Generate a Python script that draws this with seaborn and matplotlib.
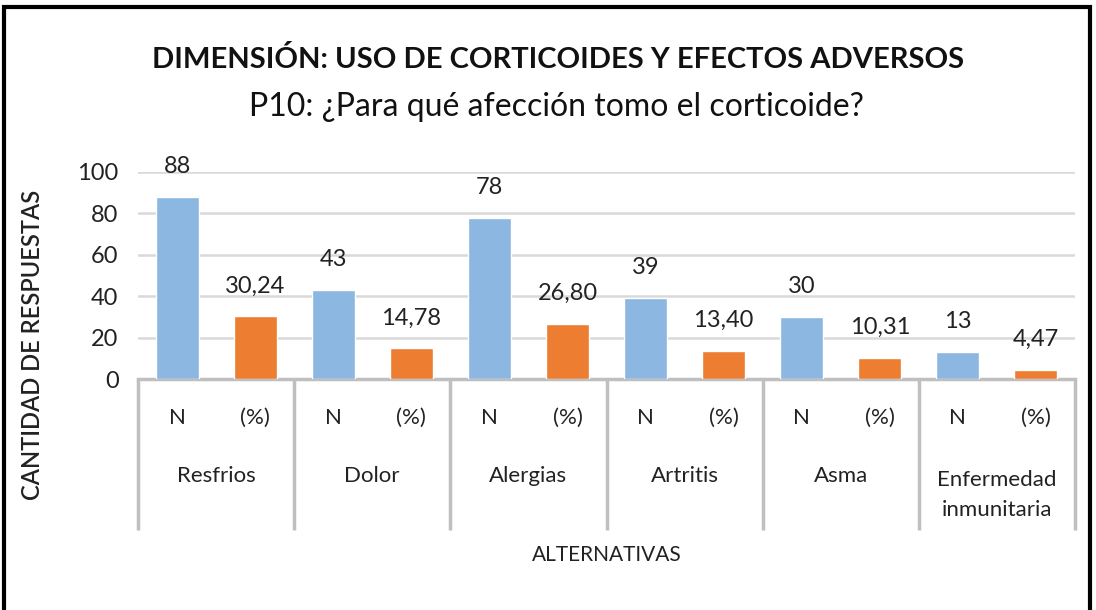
import matplotlib
matplotlib.use("Agg")
import matplotlib.pyplot as plt
import matplotlib.patches as mpatches
import seaborn as sns
import pandas as pd

# data
categorias = ["Resfrios", "Dolor", "Alergias", "Artritis", "Asma", "Enfermedad\ninmunitaria"]
n_valores = [88, 43, 78, 39, 30, 13]
pct_valores = [30.24, 14.78, 26.80, 13.40, 10.31, 4.47]
sub_labels = ["N", "(%)"]

titulo = "DIMENSIÓN: USO DE CORTICOIDES Y EFECTOS ADVERSOS"
subtitulo = "P10: ¿Para qué afección tomo el corticoide?"

# build long table: one slot per (categoria, N/%)
rows = []
for cat, n, p in zip(categorias, n_valores, pct_valores):
    rows.append({"slot": cat + " N", "serie": "N", "valor": n})
    rows.append({"slot": cat + " (%)", "serie": "(%)", "valor": p})
df = pd.DataFrame(rows)

sns.set_style("white")
plt.rcParams["font.family"] = ["Lato", "DejaVu Sans"]

fig = plt.figure(figsize=(10.96, 6.10), dpi=100)
ax = fig.add_axes([138 / 1096, 1 - 379 / 610, (1075 - 138) / 1096, (379 - 172) / 610])

sns.barplot(data=df, x="slot", y="valor", hue="serie", dodge=False, saturation=1,
            palette={"N": "#8CB7E1", "(%)": "#ED7D31"}, width=0.55,
            legend=False, ax=ax, zorder=3)

ax.set_xlim(-0.5, len(df) - 0.5)
ax.set_ylim(0, 100)
ax.set_yticks([0, 20, 40, 60, 80, 100])
ax.tick_params(axis="y", labelsize=17, length=0, pad=14, labelcolor="#222222")
ax.set_xticks([])
ax.set_xlabel("")
ax.set_ylabel("")
ax.yaxis.grid(True, color="#D9D9D9", linewidth=1.8, zorder=0)
for s in ["top", "right", "left"]:
    ax.spines[s].set_visible(False)
ax.spines["bottom"].set_color("#BFBFBF")
ax.spines["bottom"].set_linewidth(2.5)

# data labels
for i, row in df.iterrows():
    txt = f"{row['valor']:.0f}" if row["serie"] == "N" else f"{row['valor']:.2f}".replace(".", ",")
    ax.annotate(txt, (i, row["valor"]), xytext=(0, 20), textcoords="offset pixels",
                ha="center", va="bottom", fontsize=17, color="#222222")

# multi-level category axis
tr = ax.get_xaxis_transform()
for k, cat in enumerate(categorias):
    for j, sl in enumerate(sub_labels):
        ax.text(2 * k + j, -0.188, sl, transform=tr, ha="center", va="center",
                fontsize=16, color="#222222")
    if "\n" in cat:
        ax.text(2 * k + 0.5, -0.56, cat, transform=tr, ha="center", va="center",
                fontsize=16, color="#222222", linespacing=1.65)
    else:
        ax.text(2 * k + 0.5, -0.469, cat, transform=tr, ha="center", va="center",
                fontsize=16, color="#222222")
for k in range(len(categorias) + 1):
    ax.plot([2 * k - 0.5, 2 * k - 0.5], [0, -0.729], transform=tr, color="#BFBFBF",
            linewidth=2.5, clip_on=False, solid_capstyle="butt")

ax.text(0.5, -0.85, "ALTERNATIVAS", transform=ax.transAxes, ha="center", va="center",
        fontsize=15, color="#222222")

fig.text(33 / 1096, 1 - 345 / 610, "CANTIDAD DE RESPUESTAS", rotation=90,
         ha="center", va="center", fontsize=17, fontweight="semibold", color="#222222")

fig.text(558 / 1096, 1 - 60 / 610, titulo, ha="center", va="center",
         fontsize=21, fontweight="bold", color="#111111")
fig.text(556 / 1096, 1 - 107 / 610, subtitulo, ha="center", va="center",
         fontsize=23, color="#111111")

# outer frame (bottom edge falls outside the image, as in the reference)
fig.patches.append(mpatches.Rectangle((4 / 1096, -0.1), (1090 - 4) / 1096, 1.1 - 7 / 610,
                                      transform=fig.transFigure, fill=False,
                                      edgecolor="black", linewidth=3))

fig.savefig("out.png", dpi=100)
